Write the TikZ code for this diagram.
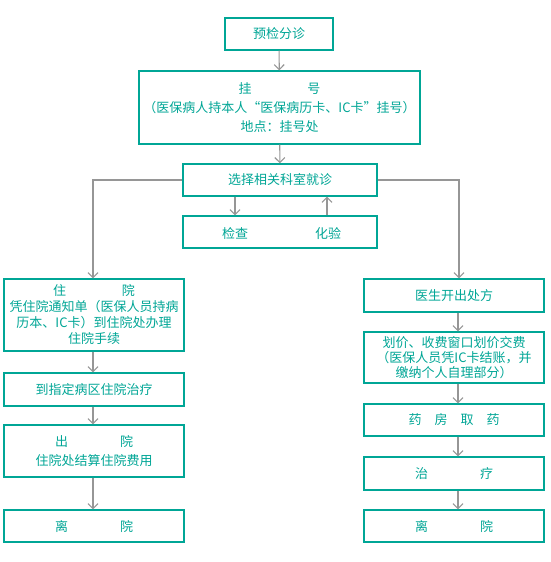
\documentclass[tikz,border=0pt]{standalone}
\usepackage{fontspec}
\usepackage{xcolor}
\usetikzlibrary{calc, positioning, arrows.meta, shadows}
\newfontfamily\cjkfont{Noto Sans CJK SC}
\definecolor{boxteal}{RGB}{0,166,150}
\definecolor{linegray}{RGB}{150,150,150}

\tikzset{
  stepbox/.style={draw=boxteal, line width=1.3pt, text=boxteal,
    inner sep=0pt, align=center,
    font=\cjkfont\fontsize{13}{16}\selectfont,
    drop shadow={shadow xshift=1.2pt, shadow yshift=-1.2pt, fill=black!12, opacity=1},
    fill=white},
  flow/.style={draw=linegray, line width=1.1pt,
    -{Straight Barb[length=5pt,width=10pt]}},
}

\begin{document}
\begin{tikzpicture}[x=1pt, y=-1pt]
    \useasboundingbox (0,0) rectangle (551,562);
    % upper part
    \node (triage) [stepbox, minimum width=108pt, minimum height=32pt] at (279,34) {预检分诊};
    \node (reg) [stepbox, minimum width=281pt, minimum height=73pt,
      font=\cjkfont\fontsize{13}{19}\selectfont] at (279.5,107.5)
      {挂\hspace{4.3em}号\\（医保病人持本人“医保病历卡、IC卡”挂号）\\地点：挂号处};
    \node (dept) [stepbox, minimum width=194pt, minimum height=32pt] at (280,180) {选择相关科室就诊};
    \node (exam) [stepbox, minimum width=194pt, minimum height=32pt] at (280,232) {};
    \node (check) [text=boxteal, font=\cjkfont\fontsize{13}{16}\selectfont] at (235,234) {检查};
    \node (lab) [text=boxteal, font=\cjkfont\fontsize{13}{16}\selectfont] at (328,234) {化验};

    % inpatient column
    \node (inp) [stepbox, minimum width=180pt, minimum height=72pt] at (94,315)
      {住\hspace{4.3em}院\\凭住院通知单（医保人员持病\\历本、IC卡）到住院处办理\\住院手续};
    \node (ward) [stepbox, minimum width=180pt, minimum height=33pt] at (94,389.5) {到指定病区住院治疗};
    \node (disch) [stepbox, minimum width=180pt, minimum height=52pt,
      font=\cjkfont\fontsize{13}{19}\selectfont] at (94,451)
      {出\hspace{4em}院\\住院处结算住院费用};
    \node (leaveL) [stepbox, minimum width=180pt, minimum height=32pt] at (94,526) {离\hspace{4em}院};

    % outpatient column
    \node (presc) [stepbox, minimum width=180pt, minimum height=33pt] at (454,295.5) {医生开出处方};
    \node (pay) [stepbox, minimum width=180pt, minimum height=51pt,
      font=\cjkfont\fontsize{13}{15}\selectfont] at (454,357.5)
      {划价、收费窗口划价交费\\（医保人员凭IC卡结账，并\\缴纳个人自理部分）};
    \node (pharm) [stepbox, minimum width=180pt, minimum height=32pt] at (454,420)
      {药\hspace{1em}房\hspace{1em}取\hspace{1em}药};
    \node (treat) [stepbox, minimum width=180pt, minimum height=33pt] at (454,473.5) {治\hspace{4em}疗};
    \node (leaveR) [stepbox, minimum width=180pt, minimum height=32pt] at (454,526) {离\hspace{4em}院};

    % connectors
    \draw[flow] (triage) -- (reg);
    \draw[flow] (reg) -- (dept);
    \draw[flow] ([xshift=-45pt]dept.south) -- ([xshift=-45pt]exam.north);
    \draw[flow] ([xshift=47pt]exam.north) -- ([xshift=47pt]dept.south);
    \draw[flow] (dept.west) -| ([xshift=-1pt]inp.north);
    \draw[flow] (dept.east) -| ([xshift=5pt]presc.north);

    \draw[flow] ([xshift=-1pt]inp.south) -- ([xshift=-1pt]ward.north);
    \draw[flow] ([xshift=-1pt]ward.south) -- ([xshift=-1pt]disch.north);
    \draw[flow] ([xshift=-1pt]disch.south) -- ([xshift=-1pt]leaveL.north);

    \draw[flow] ([xshift=4pt]presc.south) -- ([xshift=4pt]pay.north);
    \draw[flow] ([xshift=4pt]pay.south) -- ([xshift=4pt]pharm.north);
    \draw[flow] ([xshift=4pt]pharm.south) -- ([xshift=4pt]treat.north);
    \draw[flow] ([xshift=4pt]treat.south) -- ([xshift=4pt]leaveR.north);
\end{tikzpicture}
\end{document}
